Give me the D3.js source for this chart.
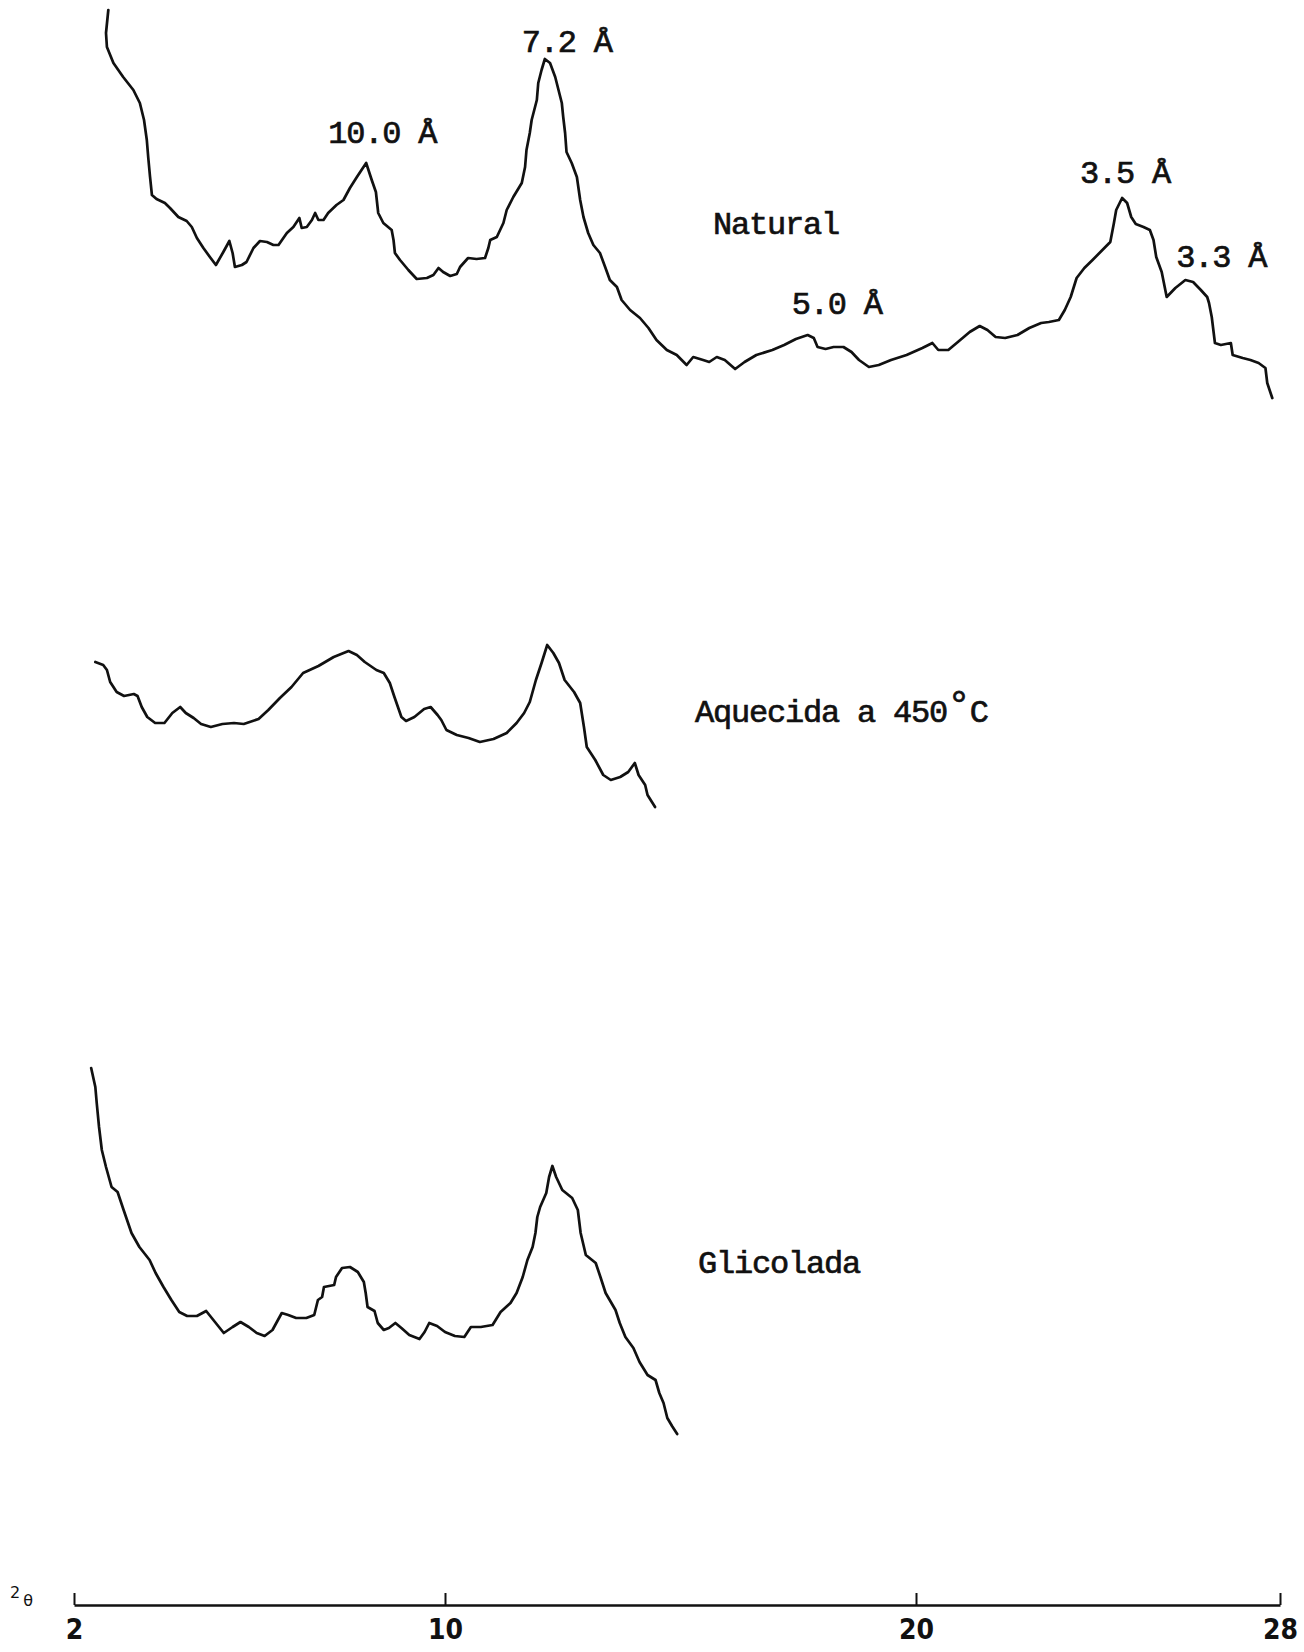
<!DOCTYPE html>
<html>
<head>
<meta charset="utf-8">
<script src="https://cdn.jsdelivr.net/npm/d3@7"></script>
<style>
  body { margin: 0; background: #fff; }
  svg { display: block; background: #fff; }
  .trace { fill: none; stroke: #111; stroke-width: 2.7; stroke-linejoin: round; stroke-linecap: round; }
  .tw { font-family: "Liberation Mono", "Courier New", monospace; font-size: 32px; fill: #111;
        stroke: #111; stroke-width: 0.7; letter-spacing: -1.2px; }
</style>
</head>
<body>
<svg id="chart" width="1304" height="1652"></svg>
<script>
// ---- data: X-ray diffractograms, 2θ (degrees) vs relative intensity ----
const thetaTicks = [2, 10, 20, 28];

const naturalTheta = [2.74,2.69,2.71,2.85,3.06,3.28,3.42,3.51,3.57,3.60,3.64,3.68,3.78,3.96,4.07,4.25,4.43,4.54,4.65,4.79,
  4.93,5.06,5.22,5.35,5.42,5.47,5.62,5.72,5.87,6.01,6.16,6.30,6.41,6.59,6.73,6.86,6.91,7.02,7.13,7.20,
  7.27,7.38,7.48,7.66,7.81,7.95,8.10,8.30,8.42,8.51,8.56,8.67,8.85,8.89,8.92,9.03,9.21,9.39,9.61,9.75,
  9.86,9.96,10.11,10.25,10.32,10.49,10.67,10.85,10.92,10.96,11.10,11.24,11.31,11.45,11.63,11.70,11.73,11.80,11.84,11.95,
  11.98,12.05,12.12,12.23,12.34,12.41,12.48,12.51,12.55,12.58,12.69,12.80,12.87,12.94,13.04,13.15,13.29,13.40,13.50,13.65,
  13.75,13.93,14.14,14.32,14.49,14.71,14.92,15.13,15.27,15.48,15.61,15.77,15.94,16.16,16.36,16.61,16.95,17.20,17.45,17.70,
  17.83,17.91,18.08,18.25,18.46,18.63,18.79,19.00,19.21,19.47,19.80,20.14,20.36,20.49,20.71,20.92,21.18,21.40,21.57,21.75,
  21.96,22.23,22.49,22.75,22.92,23.14,23.27,23.40,23.53,23.70,23.88,24.14,24.27,24.35,24.40,24.53,24.64,24.73,24.83,25.00,
  25.14,25.22,25.28,25.40,25.51,25.70,25.92,26.09,26.26,26.40,26.44,26.50,26.57,26.70,26.92,26.96,27.18,27.35,27.53,27.68,
  27.72,27.83];
const naturalIntensity = [410,387,373,357,343,330,317,300,280,263,243,225,221,217,212,203,199,193,182,172,
  163,155,168,179,167,153,155,158,172,179,178,175,175,187,193,202,192,193,200,207,
  200,200,207,215,220,232,243,257,240,228,207,197,190,180,167,160,150,141,142,145,
  152,148,144,146,153,162,161,162,172,180,183,197,210,223,237,253,270,287,300,320,
  337,350,361,357,343,330,317,303,287,268,257,243,220,203,187,175,167,153,140,133,
  120,110,102,92,80,70,65,55,63,60,58,63,60,51,58,65,70,75,81,85,
  82,73,71,73,73,68,60,53,55,60,65,72,77,70,70,78,88,94,90,83,
  82,85,92,97,98,100,110,123,142,152,160,172,178,197,210,222,217,203,196,193,
  190,180,163,148,123,132,140,138,130,123,117,103,77,75,77,65,62,60,57,52,
  37,22];

const heatedTheta = [2.46,2.63,2.71,2.78,2.92,3.08,3.29,3.37,3.46,3.58,3.75,3.95,4.12,4.29,4.41,4.58,4.74,4.95,5.20,5.45,
  5.66,5.98,6.19,6.44,6.69,6.94,7.27,7.60,7.92,8.10,8.27,8.52,8.68,8.81,8.91,9.06,9.16,9.34,9.55,9.69,
  9.84,9.92,10.03,10.25,10.50,10.74,11.03,11.31,11.52,11.68,11.80,11.93,12.05,12.17,12.30,12.42,12.54,12.74,12.87,12.95,
  13.01,13.19,13.36,13.52,13.72,13.89,14.03,14.11,14.25,14.30,14.46];
const heatedIntensity = [168,165,160,148,138,134,136,134,123,113,107,107,117,123,117,112,106,103,106,107,
  106,111,120,132,143,157,164,173,179,175,168,160,157,147,133,113,109,113,121,123,
  115,110,100,95,92,88,91,97,107,117,128,150,167,185,177,167,150,138,127,103,
  83,70,55,50,53,58,67,55,45,35,23];

const glycolTheta = [2.37,2.46,2.49,2.54,2.60,2.69,2.81,2.94,3.07,3.24,3.41,3.63,3.76,3.93,4.10,4.27,4.44,4.65,4.85,5.04,
  5.23,5.42,5.59,5.77,5.94,6.11,6.28,6.48,6.62,6.79,7.01,7.18,7.26,7.35,7.39,7.61,7.65,7.78,7.95,8.12,
  8.25,8.29,8.33,8.48,8.55,8.68,8.79,8.93,9.06,9.23,9.45,9.56,9.66,9.83,10.00,10.21,10.41,10.55,10.76,11.01,
  11.18,11.39,11.52,11.65,11.75,11.86,11.92,11.96,12.02,12.15,12.21,12.28,12.36,12.49,12.70,12.82,12.88,12.99,13.20,13.30,
  13.41,13.62,13.71,13.83,14.00,14.13,14.30,14.47,14.55,14.64,14.72,14.82,14.93];
const glycolIntensity = [382,363,347,323,300,283,263,258,240,217,203,190,177,163,150,138,134,134,139,128,
  117,123,128,123,117,114,120,137,135,132,132,135,150,153,163,165,173,182,183,178,
  168,157,143,139,127,120,122,127,122,115,111,118,127,124,118,114,113,123,123,125,
  138,147,157,173,190,203,217,233,243,257,273,284,273,260,252,240,217,195,187,173,
  157,140,127,113,102,88,75,70,57,47,32,24,16];

const sampleNames = ["Natural", "Aquecida a 450", "Glicolada"];
const peakLabels = ["10.0 Å", "7.2 Å", "5.0 Å", "3.5 Å", "3.3 Å"];
const peakTheta = [8.30, 12.12, 17.70, 24.53, 25.92];

// ---- layout ----
const svg = d3.select("#chart");
const axisY = 1605;
const x = d3.scaleLinear().domain(thetaTicks).range([74, 445, 916, 1280]);

// each trace sits on its own baseline, stacked down the page
const panels = [
  { theta: naturalTheta, inten: naturalIntensity, base: 420 },
  { theta: heatedTheta, inten: heatedIntensity, base: 830 },
  { theta: glycolTheta, inten: glycolIntensity, base: 1450 }
];

panels.forEach(p => {
  p.y = d3.scaleLinear().domain([0, 400]).range([p.base, p.base - 400]);
  const pts = p.theta.map((t, i) => [t, p.inten[i]]);
  const line = d3.line().x(d => x(d[0])).y(d => p.y(d[1])).curve(d3.curveLinear);
  svg.append("path").attr("class", "trace").attr("d", line(pts));
});

// d-spacing labels over the Natural peaks
const peakOffsets = [[-38, -20], [-23, -7], [-16, -21], [-42, -15], [-9, -13]];
const nat = panels[0];
peakLabels.forEach((lab, i) => {
  const idx = d3.minIndex(nat.theta, t => Math.abs(t - peakTheta[i]));
  svg.append("text").attr("class", "tw")
    .attr("x", x(nat.theta[idx]) + peakOffsets[i][0])
    .attr("y", nat.y(nat.inten[idx]) + peakOffsets[i][1])
    .text(lab);
});

// sample names
const namePos = [[713, 234], [695, 722], [698, 1273]];
sampleNames.forEach((n, i) => {
  const t = svg.append("text").attr("class", "tw")
    .attr("x", namePos[i][0]).attr("y", namePos[i][1]).text(n);
  if (i === 1) {
    t.append("tspan").attr("dy", -4).style("font-size", "40px").text("°");
    t.append("tspan").attr("dy", 4).text("C");
  }
});

// 2θ axis with inward ticks
const axis = d3.axisBottom(x).tickValues(thetaTicks).tickSize(-12).tickSizeOuter(0)
  .tickPadding(14).tickFormat(d3.format("d"));
const gAxis = svg.append("g").attr("transform", `translate(0,${axisY})`).call(axis);
gAxis.select(".domain").attr("stroke", "#111").attr("stroke-width", 2.6);
gAxis.selectAll(".tick line").attr("stroke", "#111").attr("stroke-width", 2);
gAxis.selectAll(".tick text")
  .attr("fill", "#111")
  .style("font-family", "'DejaVu Sans Condensed', 'DejaVu Sans', sans-serif")
  .style("font-stretch", "condensed")
  .style("font-weight", "bold")
  .style("font-size", "28px");

// axis title: 2θ
const ttl = svg.append("text").attr("x", 10).attr("y", 1598)
  .style("font-family", "'DejaVu Sans', sans-serif").style("font-size", "16px").attr("fill", "#111");
ttl.append("tspan").text("2");
ttl.append("tspan").attr("dx", 3).attr("dy", 8).text("θ");
</script>
</body>
</html>
